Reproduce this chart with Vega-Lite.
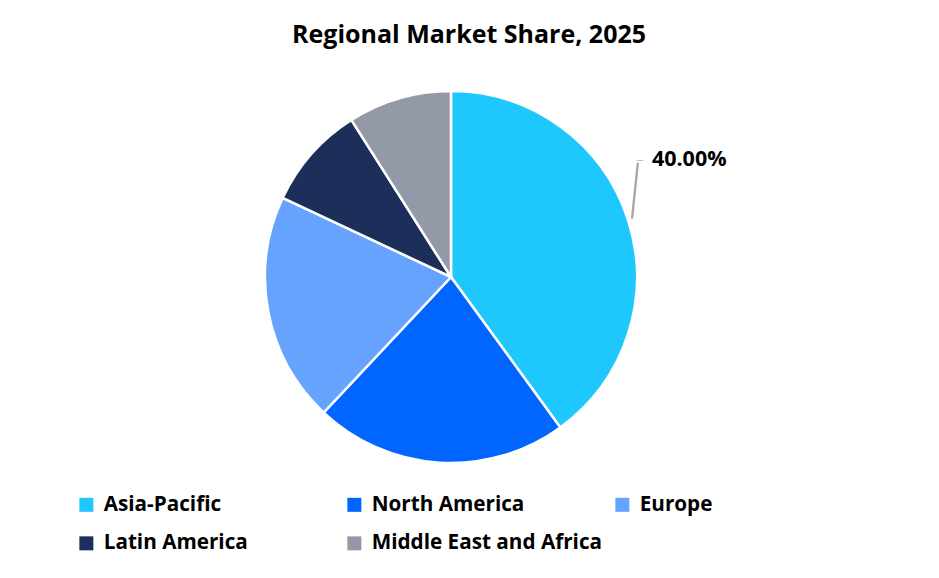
{
  "$schema": "https://vega.github.io/schema/vega-lite/v6.json",
  "autosize": "none",
  "width": 902,
  "height": 434,
  "padding": {"left": 0, "top": 60, "right": 37, "bottom": 84},
  "background": "white",
  "config": {"view": {"stroke": null}, "font": "Open Sans"},
  "title": {
    "text": "Regional Market Share, 2025",
    "font": "Open Sans",
    "fontSize": 25,
    "fontWeight": "bold",
    "color": "#000000",
    "anchor": "middle",
    "dx": 18,
    "offset": -21
  },
  "data": {
    "values": [
      {"region": "Asia-Pacific", "share": 0.40, "rank": 1},
      {"region": "North America", "share": 0.22, "rank": 2},
      {"region": "Europe", "share": 0.20, "rank": 3},
      {"region": "Latin America", "share": 0.09, "rank": 4},
      {"region": "Middle East and Africa", "share": 0.09, "rank": 5}
    ]
  },
  "encoding": {
    "theta": {"field": "share", "type": "quantitative", "stack": true},
    "order": {"field": "rank", "type": "quantitative", "sort": "ascending"}
  },
  "layer": [
    {
      "mark": {"type": "arc", "radius": 186, "stroke": "white", "strokeWidth": 2.5},
      "encoding": {
        "color": {
          "field": "region",
          "type": "nominal",
          "scale": {
            "domain": ["Asia-Pacific", "North America", "Europe", "Latin America", "Middle East and Africa"],
            "range": ["#1FC8FC", "#0066FF", "#66A3FF", "#1C2F5A", "#9399A7"]
          },
          "legend": {
            "title": null,
            "orient": "none",
            "legendX": 76,
            "legendY": 434,
            "direction": "horizontal",
            "columns": 3,
            "gridAlign": "all",
            "columnPadding": 9,
            "rowPadding": 17,
            "symbolType": "square",
            "symbolSize": 196,
            "symbolStrokeWidth": 0,
            "symbolOffset": 0,
            "labelFont": "Open Sans",
            "labelFontSize": 20.7,
            "labelFontWeight": "bold",
            "labelColor": "#000000",
            "labelOffset": 7,
            "labelLimit": 400
          }
        }
      }
    },
    {
      "mark": {
        "type": "text",
        "radius": 186,
        "align": "left",
        "baseline": "middle",
        "dx": 24,
        "dy": -60,
        "font": "Open Sans",
        "fontSize": 21.5,
        "fontWeight": "bold",
        "color": "#000000"
      },
      "encoding": {
        "text": {
          "condition": {"test": "datum.region === 'Asia-Pacific'", "field": "share", "type": "quantitative", "format": ".2%"},
          "value": ""
        }
      }
    },
    {
      "mark": {
        "type": "text",
        "radius": 186,
        "align": "center",
        "baseline": "middle",
        "dx": 4,
        "dy": -30,
        "angle": 6,
        "font": "Lato",
        "fontSize": 60,
        "fontWeight": 300,
        "color": "#A6A6A6"
      },
      "encoding": {
        "text": {
          "condition": {"test": "datum.region === 'Asia-Pacific'", "value": "|"},
          "value": ""
        }
      }
    },
    {
      "mark": {
        "type": "text",
        "radius": 186,
        "align": "center",
        "baseline": "middle",
        "dx": 12,
        "dy": -60,
        "font": "Lato",
        "fontSize": 10,
        "fontWeight": "normal",
        "color": "#A6A6A6"
      },
      "encoding": {
        "text": {
          "condition": {"test": "datum.region === 'Asia-Pacific'", "value": "—"},
          "value": ""
        }
      }
    }
  ]
}
